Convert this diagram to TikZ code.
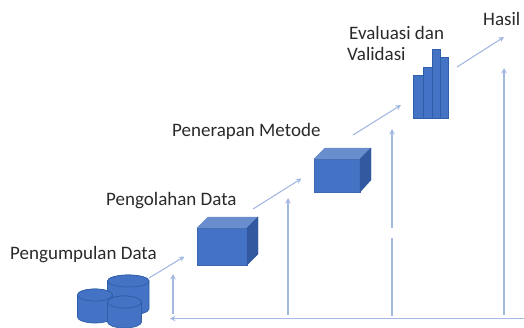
\documentclass[tikz,border=0pt]{standalone}
\usepackage{fontspec}
\setmainfont{Carlito}
\definecolor{boxblue}{HTML}{4472C4}
\definecolor{boxtop}{HTML}{6A8DCD}
\definecolor{boxside}{HTML}{335AA0}
\definecolor{edgeblue}{HTML}{2F5FA8}
\definecolor{linkblue}{HTML}{A3B9E2}
\definecolor{txt}{HTML}{2A2A2A}
\usetikzlibrary{arrows.meta}
\tikzset{
 lbl/.style={inner sep=0pt,anchor=base west,text=txt,font=\fontsize{19}{20}\selectfont},
 link/.style={draw=linkblue,line width=1.1pt,-{Stealth[length=5.5pt,width=5.5pt,inset=2pt]}},
 plainlink/.style={draw=linkblue,line width=1.1pt},
 front/.style={fill=boxblue,draw=boxblue!90!black,line width=.4pt},
 topf/.style={fill=boxtop,draw=boxtop,line width=.4pt},
 sidef/.style={fill=boxside,draw=boxside,line width=.4pt},
 bar/.style={fill=boxblue,draw=edgeblue,line width=.9pt},
 cyl/.style={fill=boxblue,draw=edgeblue,line width=.7pt}
}
\newcommand{\cylshape}[4]{% left, right, top(centre y of ellipse), bottom
 \pgfmathsetmacro{\cxm}{(#1+#2)/2}
 \pgfmathsetmacro{\crx}{(#2-#1)/2}
 \path[cyl] (#1,#3) -- (#1,#4) arc[start angle=180,end angle=0,x radius=\crx,y radius=6] -- (#2,#3) arc[start angle=0,end angle=-180,x radius=\crx,y radius=6] -- cycle;
 \path[cyl] (\cxm,#3) ellipse[x radius=\crx,y radius=6];
}
\begin{document}
\begin{tikzpicture}[x=1pt,y=-1pt]
\useasboundingbox (0,0) rectangle (524,327);
\clip (0,0) rectangle (524,327);
% labels
\node[lbl] (t1) at (10,259) {Pengumpulan Data};
\node[lbl] (t2) at (106,205) {Pengolahan Data};
\node[lbl] (t3) at (172,136) {Penerapan Metode};
\node[lbl] (t4) at (349,39) {Evaluasi dan};
\node[lbl] (t4b) at (347,60) {Validasi};
\node[lbl] (t5) at (483,25) {Hasil};
% cylinders
\cylshape{107.5}{149}{281}{309}
\cylshape{77.5}{112.5}{295}{317}
\cylshape{107.5}{141.5}{302}{322}
% cube 1
\path[front] (197,228) rectangle (247,265);
\path[topf] (197,228) -- (208,217) -- (258,217) -- (247,228) -- cycle;
\path[sidef] (247,228) -- (258,217) -- (258,254) -- (247,265) -- cycle;
% cube 2
\path[front] (314,159) rectangle (360,192);
\path[topf] (314,159) -- (325,148) -- (371,148) -- (360,159) -- cycle;
\path[sidef] (360,159) -- (371,148) -- (371,180) -- (360,192) -- cycle;
% bars
\path[bar] (413.5,75) rectangle (423,118);
\path[bar] (423,67) rectangle (432,118);
\path[bar] (432,49) rectangle (440.5,118);
\path[bar] (440.5,57) rectangle (448,118);
% connector ends
\coordinate (a1s) at (149,278); \coordinate (a1e) at (184.5,256.5);
\coordinate (a2s) at (253,209); \coordinate (a2e) at (301.5,178.5);
\coordinate (a3s) at (353,135); \coordinate (a3e) at (401,105);
\coordinate (a4s) at (457,67); \coordinate (a4e) at (504,37);
\coordinate (v1s) at (173,314); \coordinate (v1e) at (173,274);
\coordinate (v2s) at (288,315); \coordinate (v2e) at (288,198);
\coordinate (v3s) at (392,316); \coordinate (v3m) at (392,238);
\coordinate (v3n) at (392,228); \coordinate (v3e) at (392,129);
\coordinate (v4s) at (504,315); \coordinate (v4e) at (504,68);
\coordinate (hs) at (524,318.5); \coordinate (he) at (170,318.5);
\draw[link] (a1s) -- (a1e);
\draw[link] (a2s) -- (a2e);
\draw[link] (a3s) -- (a3e);
\draw[link] (a4s) -- (a4e);
\draw[link] (v1s) -- (v1e);
\draw[link] (v2s) -- (v2e);
\draw[plainlink] (v3s) -- (v3m);
\draw[link] (v3n) -- (v3e);
\draw[link] (v4s) -- (v4e);
\draw[link] (hs) -- (he);
\end{tikzpicture}
\end{document}
